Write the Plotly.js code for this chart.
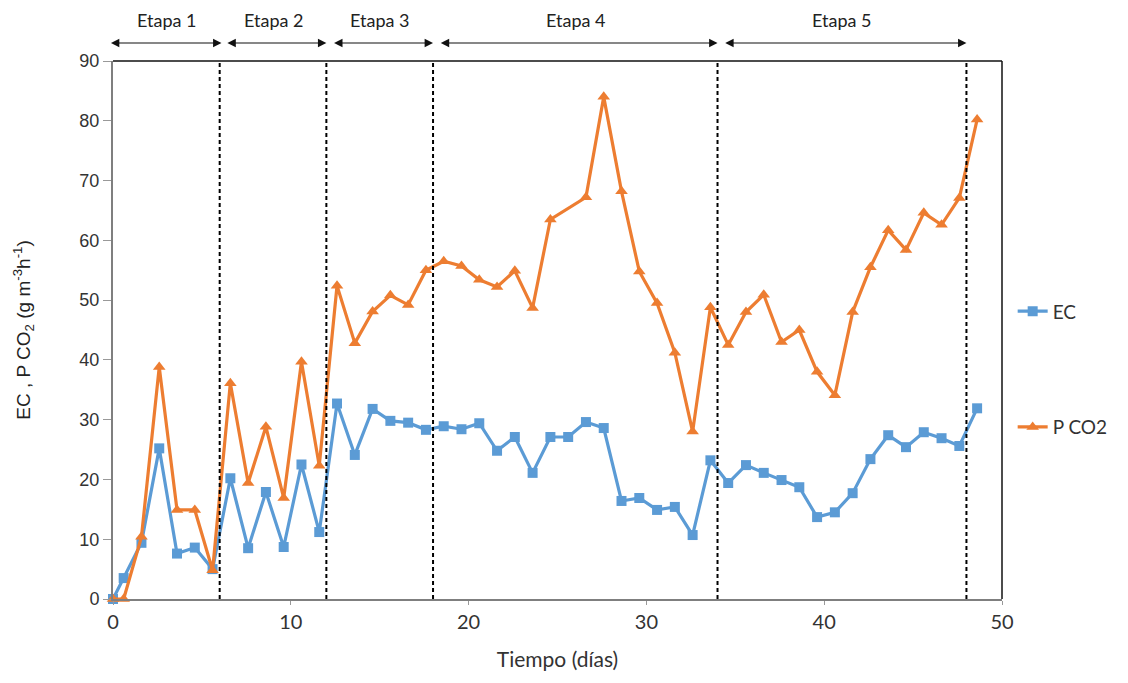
<!DOCTYPE html>
<html>
<head>
<meta charset="utf-8">
<script src="https://cdn.plot.ly/plotly-3.0.1.min.js"></script>
<style>html,body{margin:0;padding:0;background:#fff;}#chart{width:1128px;height:683px;}</style>
</head>
<body>
<div id="chart"></div>
<script>
// Tiempo (días)
var days = [0, 0.6, 1.6, 2.6, 3.6, 4.6, 5.6, 6.6, 7.6, 8.6, 9.6, 10.6, 11.6, 12.6, 13.6, 14.6, 15.6, 16.6, 17.6,
  18.6, 19.6, 20.6, 21.6, 22.6, 23.6, 24.6, 25.6, 26.6, 27.6, 28.6, 29.6, 30.6, 31.6, 32.6, 33.6, 34.6, 35.6,
  36.6, 37.6, 38.6, 39.6, 40.6, 41.6, 42.6, 43.6, 44.6, 45.6, 46.6, 47.6, 48.6];
var ec = [0, 3.5, 9.4, 25.2, 7.6, 8.6, 5.0, 20.2, 8.5, 17.9, 8.7, 22.5, 11.2, 32.7, 24.1, 31.8, 29.8, 29.5, 28.3,
  28.9, 28.4, 29.4, 24.8, 27.1, 21.1, 27.1, 27.1, 29.6, 28.6, 16.4, 16.9, 14.9, 15.4, 10.7, 23.2, 19.4, 22.4,
  21.1, 19.9, 18.7, 13.7, 14.5, 17.7, 23.4, 27.4, 25.4, 27.9, 26.9, 25.6, 31.9];
var pco2 = [0, 0, 10.4, 38.8, 14.9, 14.9, 4.8, 36.1, 19.4, 28.8, 16.9, 39.7, 22.3, 52.4, 42.8, 48.1, 50.8, 49.2, 55.0,
  56.5, 55.7, 53.4, 52.2, 54.9, 48.7, 63.5, null, 67.2, 84.0, 68.2, 54.8, 49.5, 41.2, 28.0, 48.8, 42.5, 48.0,
  50.9, 43.0, 45.0, 38.0, 34.1, 48.0, 55.5, 61.7, 58.4, 64.6, 62.6, 67.1, 80.2];
var stageNames = ['Etapa 1', 'Etapa 2', 'Etapa 3', 'Etapa 4', 'Etapa 5'];
var stageStart = [0, 6, 12, 18, 34];
var stageEnd = [6, 12, 18, 34, 48];
var stageLabelX = [3, 9, 15, 26, 41];
var xTicks = [0, 10, 20, 30, 40, 50];
var yTicks = [0, 10, 20, 30, 40, 50, 60, 70, 80, 90];

var traces = [
  {x: days, y: ec, name: 'EC', type: 'scatter', mode: 'lines+markers', legendgroup: 'a', cliponaxis: false,
   line: {color: '#5B9BD5', width: 3.2}, marker: {symbol: 'square', size: 10, color: '#5B9BD5'}},
  {x: days, y: pco2, name: 'P CO2', type: 'scatter', mode: 'lines+markers', legendgroup: 'b', connectgaps: true,
   cliponaxis: false,
   line: {color: '#ED7D31', width: 3.2}, marker: {symbol: 'triangle-up', size: 11, color: '#ED7D31'}}
];

var shapes = stageEnd.map(function (b) {
  return {type: 'line', xref: 'x', yref: 'y', x0: b, x1: b, y0: 0, y1: 90, layer: 'above',
          line: {color: '#000', width: 2, dash: '4px,3px'}};
});
// black top and right border of the frame
shapes.push({type: 'line', xref: 'paper', yref: 'paper', x0: 0, x1: 1, y0: 1, y1: 1, line: {color: '#111', width: 1.5}});
shapes.push({type: 'line', xref: 'paper', yref: 'paper', x0: 1, x1: 1, y0: 0, y1: 1, line: {color: '#111', width: 1.5}});

var annotations = [];
stageNames.forEach(function (n, i) {
  var s = stageStart[i] + (i === 0 ? -0.2 : 0.35);
  var e = stageEnd[i] + (i === 0 ? 0.1 : 0.0);
  annotations.push({xref: 'x', yref: 'paper', x: e, y: 1.0335, axref: 'x', ax: s, ayref: 'pixel', ay: 0,
    text: '', showarrow: true, arrowside: 'end+start', arrowhead: 2, arrowsize: 1.4, arrowwidth: 1.2,
    arrowcolor: '#111', standoff: 0, startstandoff: 0});
  annotations.push({xref: 'x', yref: 'paper', x: stageLabelX[i], y: 1.076, yanchor: 'middle', text: n, showarrow: false,
    font: {family: 'Lato, sans-serif', size: 18, color: '#222'}});
});

var layout = {
  width: 1128, height: 683,
  margin: {l: 113, r: 126, t: 61, b: 84},
  paper_bgcolor: '#fff', plot_bgcolor: '#fff',
  showlegend: true,
  legend: {x: 1.012, y: 0.57, xanchor: 'left', yanchor: 'top', tracegroupgap: 88,
           traceorder: 'grouped', font: {family: 'Lato, sans-serif', size: 19, color: '#333'}, bgcolor: 'rgba(0,0,0,0)'},
  xaxis: {range: [0, 50], tickvals: xTicks, showgrid: false, zeroline: false,
          showline: true, linecolor: '#7f7f7f', linewidth: 2, mirror: false,
          ticks: 'outside', ticklen: 4, tickcolor: '#999',
          tickfont: {family: 'Lato, sans-serif', size: 20, color: '#333'},
          title: {text: 'Tiempo (días)', font: {family: 'Lato, sans-serif', size: 21, color: '#333'}, standoff: 20}},
  yaxis: {range: [0, 90], tickvals: yTicks, showgrid: false, zeroline: false,
          showline: true, linecolor: '#7f7f7f', linewidth: 2, mirror: false,
          ticks: 'outside', ticklen: 8, tickcolor: '#999',
          tickfont: {family: 'Liberation Sans, Arial, sans-serif', size: 18, color: '#333'},
          title: {text: 'EC , P CO<sub>2</sub> (g m<sup>-3</sup>h<sup>-1</sup>)',
                  font: {family: 'Liberation Sans, Arial, sans-serif', size: 19, color: '#222'}, standoff: 44}},
  shapes: shapes,
  annotations: annotations
};

Plotly.newPlot('chart', traces, layout, {displayModeBar: false, staticPlot: true});
</script>
</body>
</html>
